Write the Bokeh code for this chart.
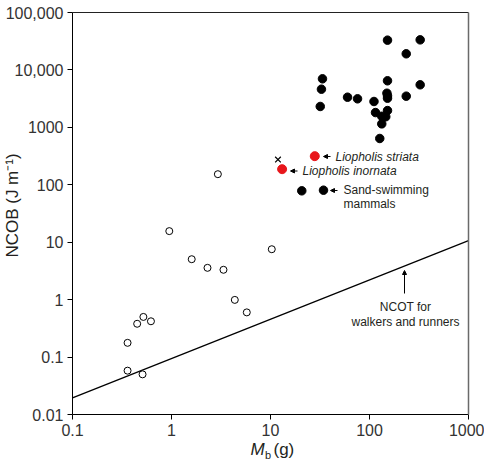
import math
from bokeh.plotting import figure
from bokeh.models import FixedTicker, Label, Arrow, NormalHead, LogAxis, Range1d
from bokeh.embed import file_html
from bokeh.resources import INLINE

# ---------------- data ----------------
# burrowing mammals (filled black)
mammal_mass = [152, 325, 235, 33.5, 32.7, 152, 325, 60, 75.7, 111, 150, 152, 152,
               235, 31.8, 115, 152, 133, 146, 133, 127]
mammal_ncob = [33000, 33400, 19100, 7000, 4620, 6470, 5510, 3350, 3140, 2820, 3930,
               3540, 3220, 3490, 2310, 1810, 1960, 1560, 1530, 1150, 640]
# sand-swimming mammals (filled black)
sandmammal_mass = [20.7, 34.3]
sandmammal_ncob = [78.5, 80.5]
# Liopholis striata, Liopholis inornata (red)
liopholis_mass = [28, 13.1]
liopholis_ncob = [315, 187]
# cross
cross_mass = [11.9]
cross_ncob = [275]
# open circles
open_mass = [2.94, 0.95, 1.60, 2.31, 3.35, 10.3, 4.36, 5.76, 0.45, 0.52, 0.62, 0.36, 0.36, 0.51]
open_ncob = [153, 15.6, 5.06, 3.58, 3.31, 7.55, 0.99, 0.60, 0.38, 0.50, 0.42, 0.177, 0.058, 0.050]
# NCOT for walkers and runners
ncot_mass = [0.1, 1000]
ncot_value = [0.0195, 10.7]

x_bounds = (0.1, 1000)
y_bounds = (0.01, 100000)
x_ticks = [0.1, 1, 10, 100, 1000]
x_tick_labels = ["0.1", "1", "10", "100", "1000"]
y_ticks = [0.01, 0.1, 1, 10, 100, 1000, 10000, 100000]
y_tick_labels = ["0.01", "0.1", "1", "10", "100", "1000", "10,000", "100,000"]

# ---------------- layout helpers ----------------
W, H = 484, 462
L, R, T, B = 72, 16, 12, 48      # plot box edges in pixels
FW, FH = W - L - R, H - T - B
XDEC = math.log10(x_bounds[1] / x_bounds[0])
YDEC = math.log10(y_bounds[1] / y_bounds[0])


def px_x(px):
    return x_bounds[0] * 10 ** (XDEC * (px - L) / FW)


def px_y(py):
    return y_bounds[0] * 10 ** (YDEC * (T + FH - py) / FH)


FONT = "Liberation Sans"
TXT = "#231f20"

p = figure(width=W, height=H, x_axis_type="log", y_axis_type="log",
           x_axis_location=None, y_axis_location=None, title=None,
           x_range=Range1d(px_x(0), px_x(W)), y_range=Range1d(px_y(H), px_y(0)),
           min_border=0, output_backend="svg", toolbar_location=None)

p.xgrid.visible = False
p.ygrid.visible = False
p.outline_line_color = None
p.background_fill_color = "white"
p.border_fill_color = "white"

# plot box: top edge black, right edge grey
p.segment(x0=[px_x(L)], y0=[px_y(T)], x1=[px_x(W - R)], y1=[px_y(T)],
          line_color="#222222", line_width=1)
p.add_layout(Arrow(x_start=px_x(W - R), y_start=px_y(T + FH), x_end=px_x(W - R), y_end=px_y(T),
                   start=None, end=None, line_color="#6a6a6a", line_width=1.5))


def style_axis(ax, ticks, labels):
    ax.ticker = FixedTicker(ticks=ticks)
    ax.major_label_overrides = dict(zip(ticks, labels))
    ax.axis_line_color = "black"
    ax.axis_line_width = 1
    ax.major_tick_line_color = "black"
    ax.major_tick_in = 0
    ax.major_tick_out = 5
    ax.minor_tick_line_color = None
    ax.major_label_text_font = FONT
    ax.major_label_text_font_size = "16px"
    ax.major_label_text_color = "#333333"
    ax.major_label_standoff = 4


xaxis = LogAxis(fixed_location=y_bounds[0], bounds=x_bounds)
style_axis(xaxis, x_ticks, x_tick_labels)
p.add_layout(xaxis, "below")
yaxis = LogAxis(fixed_location=x_bounds[0], bounds=y_bounds)
style_axis(yaxis, y_ticks, y_tick_labels)
p.add_layout(yaxis, "left")

# NCOT line
p.line(ncot_mass, ncot_value, line_color="black", line_width=1.3)

# points
p.scatter(open_mass, open_ncob, marker="circle", size=7, fill_color="white",
          line_color="black", line_width=1)
p.scatter(mammal_mass, mammal_ncob, marker="circle", size=8.5, fill_color="black",
          line_color="black")
p.scatter(sandmammal_mass, sandmammal_ncob, marker="circle", size=8.5, fill_color="black",
          line_color="black")
p.scatter(liopholis_mass, liopholis_ncob, marker="circle", size=9, fill_color="#e8161b",
          line_color="#e8161b")
p.scatter(cross_mass, cross_ncob, marker="x", size=8, line_color="black", line_width=1.2)


# annotations
def arrow(x0, y0, x1, y1, size=4):
    p.add_layout(Arrow(x_start=px_x(x0), y_start=px_y(y0), x_end=px_x(x1), y_end=px_y(y1),
                       line_color="black", line_width=1,
                       end=NormalHead(size=size, fill_color="black", line_color="black")))


def label(x, y, text, size="12px", style="normal", align="left", baseline="middle", angle=0):
    p.add_layout(Label(x=px_x(x), y=px_y(y), text=text, text_font=FONT,
                       text_font_size=size, text_font_style=style, text_color=TXT,
                       text_align=align, text_baseline=baseline, angle=angle))


arrow(330, 156, 323, 156)
label(335, 156, "Liopholis striata", style="italic")
arrow(297, 170.5, 290, 170.5)
label(302, 170.5, "Liopholis inornata", style="italic")
arrow(337, 190, 330, 190)
label(343, 189, "Sand-swimming")
label(343, 203, "mammals")
arrow(404, 293, 404, 270)
label(405, 306, "NCOT for", align="center")
label(405, 321, "walkers and runners", align="center")

# axis titles
label(12, 205, "NCOB (J m\u207b\u00b9)", size="17px", align="center", angle=math.pi / 2)
label(250, 449, "M", size="17px", style="italic")
label(264.5, 454, "b", size="11px")
label(273, 449, "(g)", size="17px")

open("out.html", "w").write(file_html(p, INLINE))
